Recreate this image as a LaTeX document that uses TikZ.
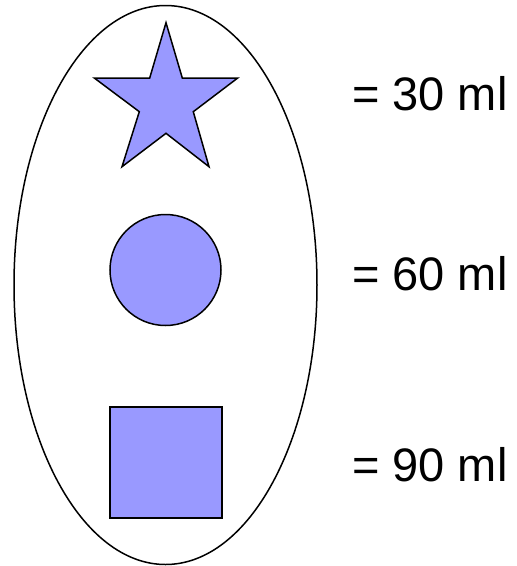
\documentclass[tikz,border=0pt]{standalone}
\usepackage{fontspec}
\setmainfont{Liberation Sans}
\definecolor{shapefill}{HTML}{9999FF}
\begin{document}
\begin{tikzpicture}[x=1pt,y=-1pt,
  shapestyle/.style={fill=shapefill,draw=black,line width=1.5pt,line join=miter},
  label/.style={anchor=base west,inner sep=0pt,font=\fontsize{47}{50}\selectfont}]
\useasboundingbox (0,0) rectangle (517,566);
\draw[line width=1.5pt] (165.5,285) ellipse [x radius=151.5, y radius=279.5];
\draw[shapestyle] (166,22.7) -- (182.3,78) -- (237.7,78) -- (193.3,111.7) -- (209,166.7)
  -- (166,133.3) -- (122,166.7) -- (139.3,111.7) -- (94.3,78) -- (149.7,78) -- cycle;
\draw[shapestyle] (165.5,270) circle [radius=55.5];
\draw[shapestyle,line width=2pt] (110,406.7) rectangle (222,518.3);
\node[label] (t1) at (352,110) {= 30 ml};
\node[label] (t2) at (352,290) {= 60 ml};
\node[label] (t3) at (352,481) {= 90 ml};
\end{tikzpicture}
\end{document}
